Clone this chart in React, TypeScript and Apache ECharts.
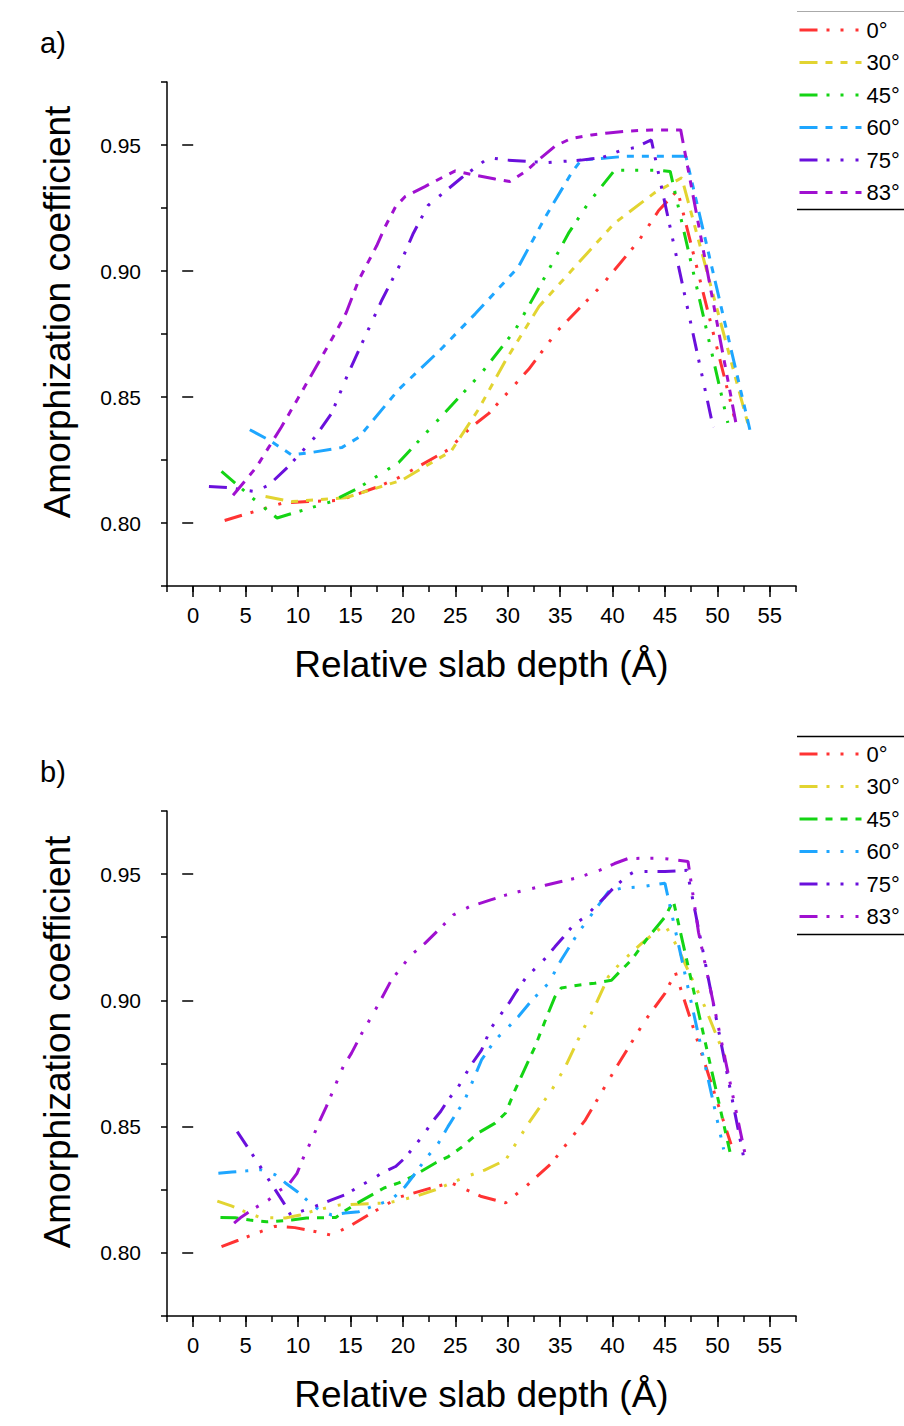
import React, { useEffect, useRef } from 'react';
import * as echarts from 'echarts';

// ---------- data ----------
const ANGLES = ['0°', '30°', '45°', '60°', '75°', '83°'];
const COLORS = ['#ff3333', '#e2d431', '#14d414', '#1ea6ff', '#6a10dc', '#a010d0'];

const X_TICKS = [-2.5, 0, 2.5, 5, 7.5, 10, 12.5, 15, 17.5, 20, 22.5, 25, 27.5, 30, 32.5, 35, 37.5, 40, 42.5, 45, 47.5, 50, 52.5, 55, 57.5];
const X_LABELS = [0, 5, 10, 15, 20, 25, 30, 35, 40, 45, 50, 55];
const Y_TICKS = [0.775, 0.8, 0.825, 0.85, 0.875, 0.9, 0.925, 0.95, 0.975];
const Y_LABELS = [0.8, 0.85, 0.9, 0.95];

// panel a
const a0: number[][] = [[3, 0.801], [7, 0.806], [8.6, 0.808], [11, 0.8085], [14, 0.809], [17.7, 0.8145], [19.6, 0.818], [24.3, 0.829], [26.5, 0.838], [28.2, 0.8435], [32, 0.861], [34.8, 0.8765], [38.9, 0.894], [42.5, 0.912], [44.4, 0.924], [46.2, 0.932], [51.8, 0.839]];
const a30: number[][] = [[6.9, 0.8105], [9.4, 0.8085], [14.5, 0.81], [19.9, 0.817], [24.6, 0.8285], [27.2, 0.845], [29.8, 0.8645], [33, 0.886], [36.7, 0.903], [40.2, 0.919], [44, 0.931], [46.6, 0.937], [53, 0.838]];
const a45: number[][] = [[2.7, 0.8205], [6.2, 0.808], [8, 0.802], [10, 0.8045], [13.2, 0.8085], [15.8, 0.814], [19.6, 0.824], [23.5, 0.8415], [27.5, 0.8595], [30.7, 0.8765], [33.2, 0.895], [35.8, 0.915], [37.7, 0.927], [40.2, 0.94], [44.4, 0.94], [45.5, 0.9395], [51, 0.8397]];
const a60: number[][] = [[5.4, 0.837], [7.2, 0.833], [9.4, 0.827], [11.3, 0.828], [14.2, 0.83], [15.8, 0.834], [19.6, 0.853], [23.4, 0.868], [26.9, 0.883], [31, 0.9015], [33.6, 0.9215], [36.1, 0.939], [37, 0.944], [41.2, 0.9455], [47, 0.9455], [53.1, 0.837]];
const a75: number[][] = [[1.5, 0.8145], [3.4, 0.814], [5.9, 0.8125], [7.2, 0.815], [9.1, 0.8225], [11.6, 0.834], [13.2, 0.8435], [14.8, 0.8595], [16.4, 0.874], [18, 0.8885], [19.6, 0.9015], [21, 0.915], [22.4, 0.926], [24, 0.9315], [25.6, 0.937], [28.2, 0.945], [30, 0.944], [33.6, 0.943], [37, 0.944], [39, 0.945], [40.9, 0.948], [42.2, 0.949], [43.7, 0.952], [49.6, 0.838]];
const a83: number[][] = [[3.8, 0.811], [6, 0.822], [7.2, 0.83], [8.4, 0.838], [10, 0.8495], [12, 0.864], [13.7, 0.8765], [14.6, 0.8835], [15.8, 0.8965], [17.5, 0.91], [18.3, 0.9175], [19.3, 0.9255], [20.2, 0.9295], [22.1, 0.9335], [23.7, 0.937], [25, 0.9397], [26.9, 0.938], [28.8, 0.9365], [30.2, 0.9355], [31.7, 0.9395], [33.2, 0.945], [34.5, 0.9495], [36, 0.9525], [38, 0.954], [39.6, 0.9548], [41.5, 0.9555], [43.7, 0.956], [46.5, 0.956], [51.8, 0.839]];

// panel b
const b0: number[][] = [[2.7, 0.8025], [4.3, 0.805], [6.5, 0.8085], [7.8, 0.8105], [9.7, 0.81], [11.6, 0.8085], [13.2, 0.807], [15.1, 0.811], [16.7, 0.815], [19.6, 0.822], [23.1, 0.8262], [24.6, 0.8277], [27.5, 0.8223], [29.8, 0.8198], [31.7, 0.8262], [34.2, 0.8356], [37.4, 0.8526], [40.2, 0.8724], [43.1, 0.892], [45, 0.9028], [46, 0.911], [51.3, 0.843]];
const b30: number[][] = [[2.3, 0.8205], [3.7, 0.8185], [5.1, 0.816], [6.4, 0.814], [8.8, 0.8138], [10.2, 0.815], [11.8, 0.817], [14, 0.819], [17, 0.8195], [18.6, 0.8198], [21.2, 0.8223], [23.1, 0.825], [25.9, 0.83], [27.8, 0.8328], [29.8, 0.8368], [32, 0.8514], [34.2, 0.8645], [35.5, 0.8737], [36.7, 0.8843], [38.3, 0.8975], [39.6, 0.9094], [40.8, 0.915], [42.8, 0.9227], [45, 0.93], [46.2, 0.921], [48.8, 0.8975], [50.9, 0.876]];
const b45: number[][] = [[2.6, 0.814], [4, 0.8139], [5.4, 0.813], [7, 0.8123], [9.4, 0.813], [10.8, 0.8138], [13.6, 0.814], [14.6, 0.817], [15.9, 0.8203], [18.2, 0.8257], [19.6, 0.8277], [20.8, 0.83], [23.1, 0.8356], [24.3, 0.838], [25.5, 0.8415], [27.2, 0.8475], [28.8, 0.8514], [29.8, 0.8554], [30.7, 0.8645], [32.6, 0.8816], [33.6, 0.8922], [34.5, 0.9014], [35.1, 0.9049], [36.7, 0.906], [38.3, 0.9068], [39.9, 0.908], [40.6, 0.911], [41.8, 0.916], [43.4, 0.925], [45, 0.933], [45.8, 0.9395], [51.2, 0.84]];
const b60: number[][] = [[2.4, 0.8315], [3.7, 0.832], [5.1, 0.8325], [6.4, 0.833], [7.8, 0.831], [8.8, 0.8277], [10, 0.824], [11, 0.8203], [12, 0.817], [13.2, 0.815], [14.5, 0.8158], [15.8, 0.8163], [17, 0.8183], [18.9, 0.821], [20.2, 0.8262], [21.2, 0.8316], [22.1, 0.8368], [23.4, 0.8435], [24.3, 0.85], [25.9, 0.8605], [27.5, 0.8764], [28.8, 0.8843], [30.1, 0.8896], [31, 0.8935], [32.3, 0.9], [33.9, 0.9068], [35.1, 0.916], [36.7, 0.9266], [38.3, 0.9357], [39.6, 0.943], [40.8, 0.9444], [42.8, 0.945], [45, 0.9464], [50.6, 0.841]];
const b75: number[][] = [[4.2, 0.848], [5.8, 0.838], [7.2, 0.829], [8.6, 0.82], [9.3, 0.815], [10.7, 0.817], [12, 0.819], [13.2, 0.821], [14.5, 0.823], [15.8, 0.8262], [17, 0.829], [18, 0.8316], [19.3, 0.8342], [20.2, 0.8376], [21.2, 0.8427], [22.1, 0.8475], [22.7, 0.8514], [23.6, 0.856], [24.3, 0.8605], [25.3, 0.8658], [26.5, 0.8744], [27.5, 0.8803], [28.4, 0.889], [29.3, 0.8942], [30.2, 0.8994], [30.8, 0.9034], [31.7, 0.9088], [33.6, 0.9167], [34.5, 0.9212], [35.3, 0.925], [36.3, 0.93], [37.4, 0.9331], [38.3, 0.937], [39.3, 0.941], [40.2, 0.945], [41.5, 0.9496], [42.1, 0.951], [45, 0.951], [47.1, 0.9515], [52.5, 0.838]];
const b83: number[][] = [[3.9, 0.8118], [4.5, 0.8139], [5.9, 0.8178], [7.2, 0.821], [8.1, 0.8243], [9.1, 0.827], [9.9, 0.8315], [10.5, 0.8376], [11.3, 0.8447], [12.1, 0.8526], [12.7, 0.8579], [13.5, 0.8658], [14.3, 0.8737], [15.1, 0.8791], [16.1, 0.8871], [17, 0.8935], [17.8, 0.8994], [18.9, 0.908], [19.9, 0.9133], [20.8, 0.918], [22.1, 0.9226], [23.7, 0.9291], [24.8, 0.9338], [26.3, 0.937], [28.3, 0.9397], [29.8, 0.9417], [31, 0.943], [32.3, 0.9443], [33.6, 0.9456], [35, 0.947], [36.4, 0.9483], [37.4, 0.9496], [38.8, 0.9516], [40.2, 0.9542], [41.5, 0.9562], [44, 0.9563], [45.3, 0.956], [47.2, 0.955], [48.2, 0.927], [52.7, 0.838]];

const PANEL_A = [a0, a30, a45, a60, a75, a83];
const PANEL_B = [b0, b30, b45, b60, b75, b83];

// dash patterns
const DOTS = [18, 9, 3, 11, 3, 12, 3, 10];
const DASHES = [18, 8, 7, 8, 7, 8, 7, 8];
const STYLE_A = [DOTS, DASHES, DOTS, DASHES, DOTS, DASHES];
const STYLE_B = [DOTS, DOTS, DASHES, DOTS, DOTS, DOTS];

const FONT = '"Liberation Sans", Arial, sans-serif';

export default function App() {
  const ref = useRef<HTMLDivElement>(null);
  useEffect(() => {
    if (!ref.current) return;
    const chart = echarts.init(ref.current, undefined, { renderer: 'svg' });

    const grids = [
      { left: 167, top: 82, width: 629, height: 504 },
      { left: 167, top: 811, width: 629, height: 505 },
    ];

    const axisLine = { show: true, onZero: false, lineStyle: { color: '#000', width: 1.5 } };
    const xAxes: any[] = [];
    const yAxes: any[] = [];
    [0, 1].forEach((g) => {
      xAxes.push({
        type: 'value', gridIndex: g, position: 'bottom', min: -2.5, max: 57.5,
        axisLine,
        axisTick: { show: true, customValues: X_TICKS, length: 6, lineStyle: { color: '#000', width: 1.5 } },
        axisLabel: { customValues: X_LABELS, formatter: (v: number) => String(v), fontSize: 22, color: '#000', fontFamily: FONT, margin: 18 },
        splitLine: { show: false },
        name: 'Relative slab depth (Å)', nameLocation: 'middle', nameGap: 60,
        nameTextStyle: { fontSize: 37, color: '#000', fontFamily: FONT },
      });
      xAxes.push({
        type: 'value', gridIndex: g, position: 'bottom', min: -2.5, max: 57.5,
        axisLine: { show: false },
        axisTick: { show: true, customValues: X_LABELS, length: 11, lineStyle: { color: '#000', width: 1.5 } },
        axisLabel: { show: false }, splitLine: { show: false },
      });
      yAxes.push({
        type: 'value', gridIndex: g, position: 'left', min: 0.775, max: 0.975,
        axisLine,
        axisTick: { show: true, customValues: Y_TICKS, length: 6, lineStyle: { color: '#000', width: 1.5 } },
        axisLabel: { customValues: Y_LABELS, formatter: (v: number) => v.toFixed(2), fontSize: 21, color: '#000', fontFamily: FONT, margin: 26 },
        splitLine: { show: false },
      });
      yAxes.push({
        type: 'value', gridIndex: g, position: 'left', min: 0.775, max: 0.975,
        axisLine: { show: false },
        axisTick: { show: true, customValues: Y_LABELS, length: 11, lineStyle: { color: '#000', width: 1.5 } },
        axisLabel: { show: false }, splitLine: { show: false },
      });
    });

    const series: any[] = [];
    PANEL_A.forEach((d, i) => {
      series.push({
        type: 'line', name: 'a:' + ANGLES[i], data: d, xAxisIndex: 0, yAxisIndex: 0,
        symbol: 'none', color: COLORS[i], z: 2 + i,
        lineStyle: { color: COLORS[i], width: 3, type: STYLE_A[i], cap: 'butt' },
      });
    });
    PANEL_B.forEach((d, i) => {
      series.push({
        type: 'line', name: 'b:' + ANGLES[i], data: d, xAxisIndex: 2, yAxisIndex: 2,
        symbol: 'none', color: COLORS[i], z: 2 + i,
        lineStyle: { color: COLORS[i], width: 3, type: STYLE_B[i], cap: 'butt' },
      });
    });

    const legendCommon = {
      orient: 'vertical', left: 798, itemWidth: 62, itemHeight: 22, itemGap: 10.5, padding: 0,
      formatter: (n: string) => n.slice(2),
      textStyle: { fontSize: 22, color: '#000', fontFamily: FONT },
      lineStyle: { width: 3 },
      itemStyle: { opacity: 0 },
      selectedMode: false,
    };

    const titleText = (y: number) => ({
      type: 'text', x: 57, y, rotation: Math.PI / 2,
      style: { text: 'Amorphization coefficient', font: `37px ${FONT}`, fill: '#000', textAlign: 'center', textVerticalAlign: 'middle' },
    });

    chart.setOption({
      animation: false,
      backgroundColor: '#fff',
      grid: grids,
      xAxis: xAxes,
      yAxis: yAxes,
      series,
      legend: [
        { ...legendCommon, top: 19, data: ANGLES.map((a) => 'a:' + a) },
        { ...legendCommon, top: 743, data: ANGLES.map((a) => 'b:' + a) },
      ],
      graphic: [
        { type: 'text', x: 40, y: 28, style: { text: 'a)', font: `29px ${FONT}`, fill: '#000' } },
        { type: 'text', x: 40, y: 757, style: { text: 'b)', font: `29px ${FONT}`, fill: '#000' } },
        titleText(312),
        titleText(1042),
        { type: 'line', shape: { x1: 797, y1: 11.5, x2: 904, y2: 11.5 }, style: { stroke: '#aaa', lineWidth: 1 } },
        { type: 'line', shape: { x1: 797, y1: 209.5, x2: 904, y2: 209.5 }, style: { stroke: '#000', lineWidth: 1.5 } },
        { type: 'line', shape: { x1: 797, y1: 736.5, x2: 904, y2: 736.5 }, style: { stroke: '#000', lineWidth: 1.5 } },
        { type: 'line', shape: { x1: 797, y1: 934.5, x2: 904, y2: 934.5 }, style: { stroke: '#000', lineWidth: 1.5 } },
      ],
    });
    return () => chart.dispose();
  }, []);
  return <div ref={ref} style={{ position: 'absolute', left: 0, top: 0, width: 904, height: 1426, background: '#fff' }} />;
}
